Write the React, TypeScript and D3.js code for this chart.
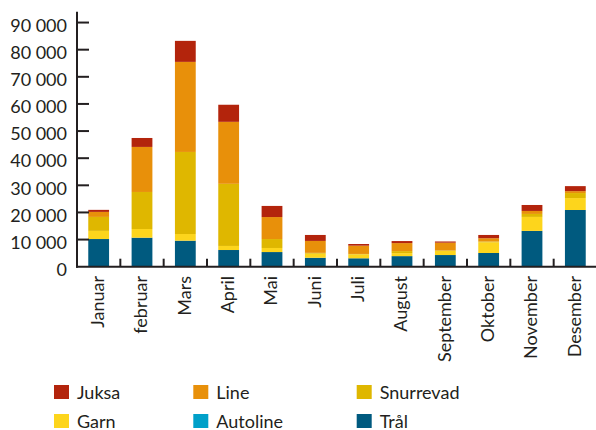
import React from "react";
import * as d3 from "d3";

const months = ["Januar", "februar", "Mars", "April", "Mai", "Juni", "Juli", "August", "September", "Oktober", "November", "Desember"];
const seriesNames = ["Trål", "Autoline", "Garn", "Snurrevad", "Line", "Juksa"];
const tral = [10200, 10700, 9600, 6150, 5400, 3300, 3100, 3900, 4300, 5050, 13200, 20900];
const autoline = [0, 0, 0, 0, 0, 0, 0, 0, 0, 0, 0, 0];
const garn = [3000, 3200, 2450, 1500, 1500, 1500, 1450, 1100, 1500, 3950, 5150, 4400];
const snurrevad = [5150, 13650, 30250, 22900, 3300, 300, 150, 750, 200, 300, 1100, 1850];
const line = [1850, 16600, 33200, 22850, 8100, 4400, 3050, 2950, 2850, 1200, 1100, 700];
const juksa = [750, 3300, 7750, 6300, 4100, 2200, 620, 750, 450, 1200, 2200, 1850];
const yTicks = [0, 10000, 20000, 30000, 40000, 50000, 60000, 70000, 80000, 90000];
const legendOrder = ["Juksa", "Line", "Snurrevad", "Garn", "Autoline", "Trål"];

const colors: Record<string, string> = {
  "Juksa": "#b3240c",
  "Line": "#e8900a",
  "Snurrevad": "#dfb700",
  "Garn": "#fdd51c",
  "Autoline": "#00a0c9",
  "Trål": "#005a7f",
};

const FONT = "Lato, 'Open Sans', sans-serif";
const AXIS = "#231f20";

export default function App() {
  const W = 596, H = 430;
  const x0 = 77, x1 = 597;
  const yBase = 266.7, yTop = 11.7;

  const data = months.map((m, i) => ({
    month: m,
    "Trål": tral[i],
    "Autoline": autoline[i],
    "Garn": garn[i],
    "Snurrevad": snurrevad[i],
    "Line": line[i],
    "Juksa": juksa[i],
  }));

  const x = d3.scaleBand<string>().domain(months).range([x0, x1]).paddingInner(0.52).paddingOuter(0.26);
  const xb = d3.scaleBand<string>().domain(months).range([x0, x1]).padding(0);
  const y = d3.scaleLinear().domain([0, 94000]).range([yBase, yTop]);
  const stack = d3.stack<any>().keys(seriesNames);
  const layers = stack(data);
  const fmt = d3.formatLocale({ decimal: ",", thousands: " ", grouping: [3], currency: ["", ""] }).format(",d");

  return (
    <svg width={W} height={H} style={{ position: "fixed", left: 0, top: 0, background: "#fff" }} fontFamily={FONT}>
      {layers.map((layer) => (
        <g key={layer.key} fill={colors[layer.key]}>
          {layer.map((d, i) => {
            const h = y(d[0]) - y(d[1]);
            if (h <= 0) return null;
            return <rect key={i} x={x(months[i])} width={x.bandwidth()} y={y(d[1])} height={h} />;
          })}
        </g>
      ))}
      {/* y axis */}
      <line x1={x0} x2={x0} y1={yTop} y2={yBase + 1} stroke={AXIS} strokeWidth={2} />
      {yTicks.map((t) => (
        <g key={t}>
          {t > 0 && <line x1={x0} x2={x0 + 12} y1={y(t)} y2={y(t)} stroke={AXIS} strokeWidth={2} />}
          <text x={67} y={y(t) + 9.3} textAnchor="end" fontSize={18} fill={AXIS}>{fmt(t)}</text>
        </g>
      ))}
      {/* x axis */}
      <line x1={x0 - 1} x2={W} y1={yBase} y2={yBase} stroke={AXIS} strokeWidth={2} />
      {months.map((m, i) => (
        <g key={m}>
          {i > 0 && <line x1={xb(m)} x2={xb(m)} y1={yBase} y2={yBase - 8} stroke={AXIS} strokeWidth={2} />}
          <text
            transform={`translate(${(xb(m) as number) + xb.bandwidth() / 2 - 1},${276}) rotate(-90)`}
            textAnchor="end"
            dy="0.35em"
            fontSize={18}
            fill={AXIS}
          >
            {m}
          </text>
        </g>
      ))}
      {/* legend */}
      {legendOrder.map((name, i) => {
        const col = i % 3;
        const row = Math.floor(i / 3);
        const lx = [54, 193.3, 356.7][col];
        const ly = 385 + row * 29;
        return (
          <g key={name}>
            <rect x={lx} y={ly} width={15} height={14} fill={colors[name]} />
            <text x={lx + 23} y={ly + 13.5} fontSize={18} fill={AXIS}>{name}</text>
          </g>
        );
      })}
    </svg>
  );
}
